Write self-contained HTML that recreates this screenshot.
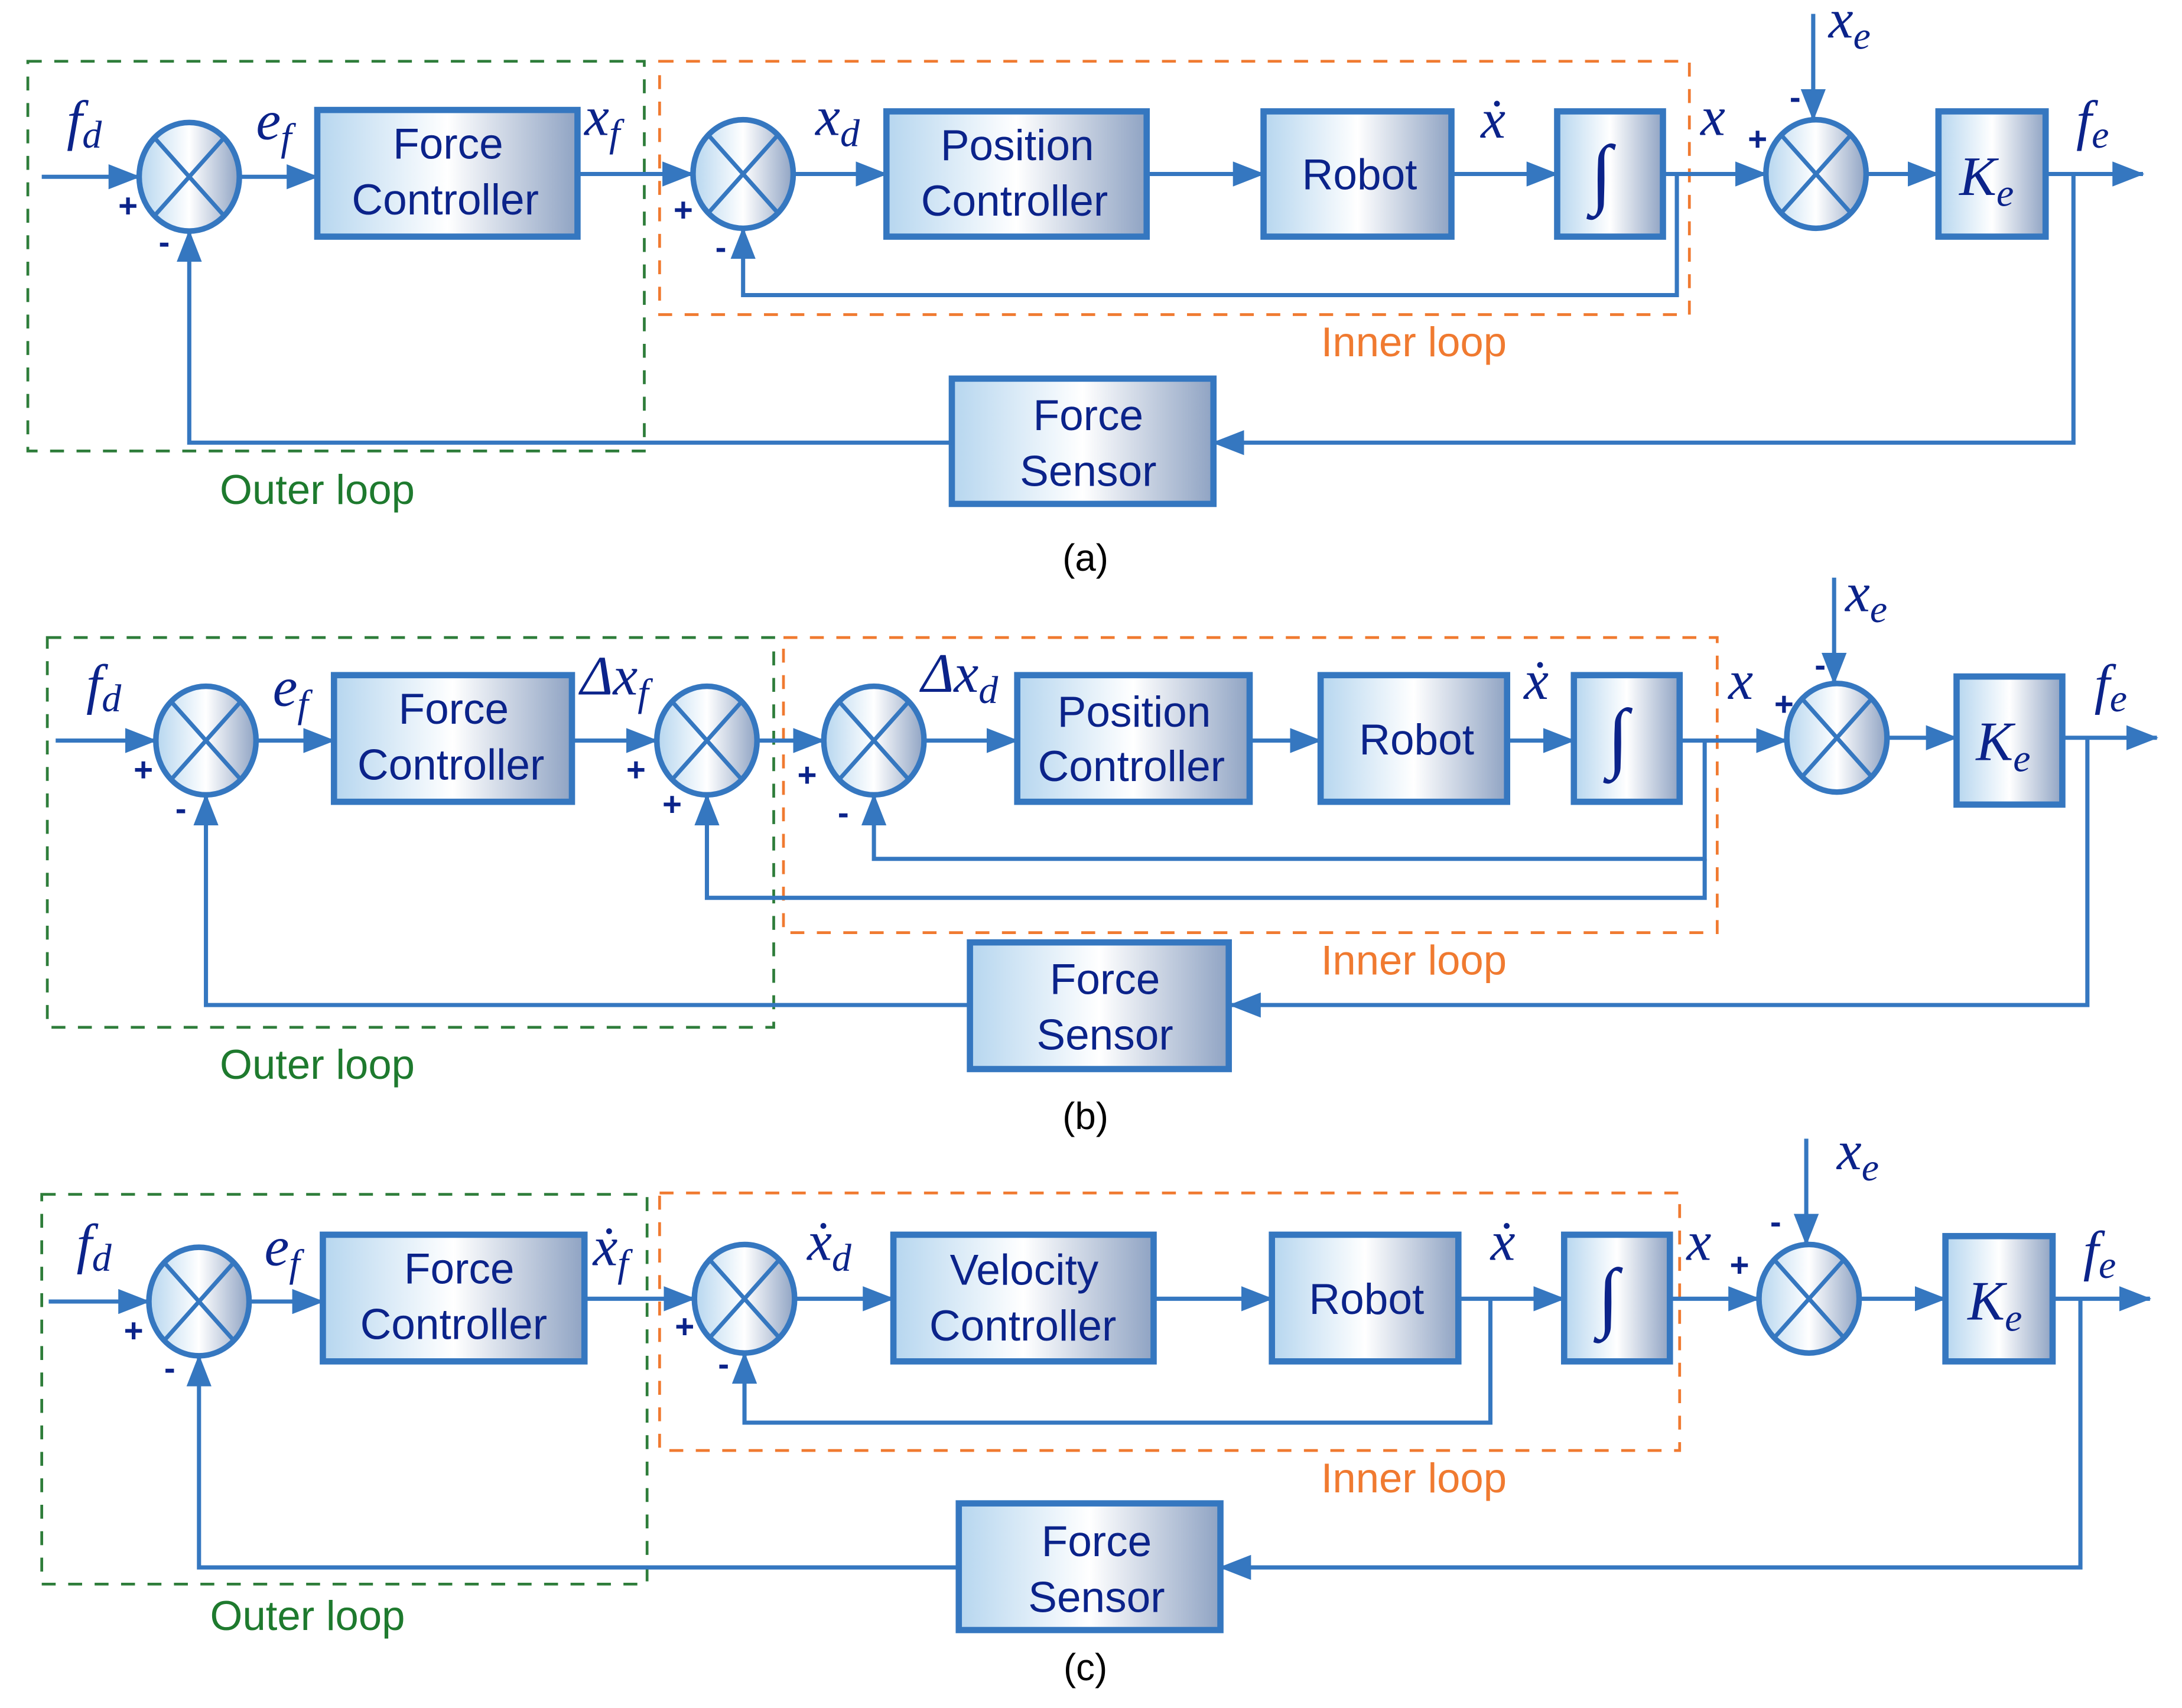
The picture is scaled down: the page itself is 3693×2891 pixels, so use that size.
<!DOCTYPE html>
<html><head><meta charset="utf-8"><style>
html,body{margin:0;padding:0;background:#fff;}
svg{display:block;}
.bt{font-family:"Liberation Sans",sans-serif;font-size:31px;fill:#0b238a;text-anchor:middle;}
.m{font-family:"Liberation Serif",serif;font-style:italic;font-size:40px;fill:#0b238a;}
.s{font-size:28px;}
.sg{font-family:"Liberation Sans",sans-serif;font-size:24px;font-weight:bold;fill:#0b238a;text-anchor:middle;}
.ar{stroke:#3577c0;stroke-width:3;fill:none;marker-end:url(#ah);}
.bx{fill:url(#g);stroke:#3577c0;stroke-width:4.5;}
.og{stroke:#2e7d3a;stroke-width:2;stroke-dasharray:10 9;fill:none;}
.oo{stroke:#f07a30;stroke-width:2;stroke-dasharray:10 9;fill:none;}
.gl{font-family:"Liberation Sans",sans-serif;font-size:30px;fill:#1e7a2e;text-anchor:middle;}
.ol{font-family:"Liberation Sans",sans-serif;font-size:30px;fill:#f07a30;text-anchor:middle;}
.cap{font-family:"Liberation Sans",sans-serif;font-size:27px;fill:#000;text-anchor:middle;}
.int{font-family:"Liberation Serif",serif;font-style:italic;font-size:56px;fill:#0b238a;}
</style></head><body>
<svg width="3693" height="2891" viewBox="0 0 1568 1227" preserveAspectRatio="none" xmlns="http://www.w3.org/2000/svg">
<defs>
<linearGradient id="g" x1="0" x2="1" y1="0" y2="0">
<stop offset="0" stop-color="#b6d6ef"/><stop offset="0.5" stop-color="#ffffff"/><stop offset="1" stop-color="#8fa3c3"/>
</linearGradient>
<marker id="ah" markerUnits="userSpaceOnUse" markerWidth="24" markerHeight="18" refX="22" refY="9" orient="auto">
<path d="M0,0 L23,9 L0,18 Z" fill="#3577c0"/>
</marker>
<g id="sum">
<ellipse cx="0" cy="0" rx="36" ry="39" fill="url(#g)" stroke="#3577c0" stroke-width="4"/>
<line x1="-25" y1="-28" x2="25" y2="28" stroke="#3577c0" stroke-width="3"/>
<line x1="25" y1="-28" x2="-25" y2="28" stroke="#3577c0" stroke-width="3"/>
</g>
</defs>

<!-- ========== (a) ========== -->
<rect class="og" x="20" y="44" width="443" height="280"/>
<rect class="oo" x="474" y="44" width="740" height="182"/>
<line class="ar" x1="30" y1="127" x2="100" y2="127"/>
<use href="#sum" x="136" y="127"/>
<line class="ar" x1="172" y1="127" x2="228" y2="127"/>
<rect class="bx" x="228" y="79" width="187" height="91"/>
<text class="bt" x="322" y="114">Force</text><text class="bt" x="320" y="154">Controller</text>
<line class="ar" x1="415" y1="125" x2="498" y2="125"/>
<use href="#sum" x="534" y="125"/>
<line class="ar" x1="570" y1="125" x2="637" y2="125"/>
<rect class="bx" x="637" y="80" width="187" height="90"/>
<text class="bt" x="731" y="115">Position</text><text class="bt" x="729" y="155">Controller</text>
<line class="ar" x1="824" y1="125" x2="908" y2="125"/>
<rect class="bx" x="908" y="80" width="135" height="90"/>
<text class="bt" x="977" y="136">Robot</text>
<line class="ar" x1="1043" y1="125" x2="1119" y2="125"/>
<rect class="bx" x="1119" y="80" width="76" height="90"/>
<text class="int" x="1143" y="143">∫</text>
<line class="ar" x1="1195" y1="125" x2="1269" y2="125"/>
<polyline class="ar" points="1205,125 1205,212 534,212 534,164"/>
<use href="#sum" x="1305" y="125"/>
<line class="ar" x1="1303" y1="10" x2="1303" y2="86"/>
<line class="ar" x1="1341" y1="125" x2="1393" y2="125"/>
<rect class="bx" x="1393" y="80" width="77" height="90"/>
<text class="m" x="1408" y="140">K<tspan class="s" dy="8">e</tspan></text>
<line class="ar" x1="1470" y1="125" x2="1540" y2="125"/>
<polyline class="ar" points="1490,125 1490,318 872,318"/>
<rect class="bx" x="684" y="272" width="188" height="90"/>
<text class="bt" x="782" y="309">Force</text><text class="bt" x="782" y="349">Sensor</text>
<polyline class="ar" points="684,318 136,318 136,166"/>
<text class="m" x="48" y="100">f<tspan class="s" dy="6">d</tspan></text>
<text class="m" x="184" y="100">e<tspan class="s" dy="8">f</tspan></text>
<text class="m" x="420" y="97">x<tspan class="s" dy="8">f</tspan></text>
<text class="m" x="586" y="97">x<tspan class="s" dy="8">d</tspan></text>
<text class="m" x="1064" y="99">ẋ</text>
<text class="m" x="1222" y="97">x</text>
<text class="m" x="1314" y="27">x<tspan class="s" dy="8">e</tspan></text>
<text class="m" x="1492" y="100">f<tspan class="s" dy="6">e</tspan></text>
<text class="sg" x="92" y="156">+</text><text class="sg" x="118" y="182">-</text>
<text class="sg" x="491" y="159">+</text><text class="sg" x="518" y="186">-</text>
<text class="sg" x="1263" y="108">+</text><text class="sg" x="1290" y="78">-</text>
<text class="gl" x="228" y="362">Outer loop</text>
<text class="ol" x="1016" y="256">Inner loop</text>
<text class="cap" x="780" y="410">(a)</text>

<!-- ========== (b) ========== -->
<rect class="og" x="34" y="458" width="522" height="280"/>
<rect class="oo" x="563" y="458" width="671" height="212"/>
<line class="ar" x1="40" y1="532" x2="112" y2="532"/>
<use href="#sum" x="148" y="532"/>
<line class="ar" x1="184" y1="532" x2="240" y2="532"/>
<rect class="bx" x="240" y="485" width="171" height="91"/>
<text class="bt" x="326" y="520">Force</text><text class="bt" x="324" y="560">Controller</text>
<line class="ar" x1="411" y1="532" x2="472" y2="532"/>
<use href="#sum" x="508" y="532"/>
<line class="ar" x1="544" y1="532" x2="592" y2="532"/>
<use href="#sum" x="628" y="532"/>
<line class="ar" x1="664" y1="532" x2="731" y2="532"/>
<rect class="bx" x="731" y="485" width="167" height="91"/>
<text class="bt" x="815" y="522">Position</text><text class="bt" x="813" y="561">Controller</text>
<line class="ar" x1="898" y1="532" x2="949" y2="532"/>
<rect class="bx" x="949" y="485" width="134" height="91"/>
<text class="bt" x="1018" y="542">Robot</text>
<line class="ar" x1="1083" y1="532" x2="1131" y2="532"/>
<rect class="bx" x="1131" y="485" width="76" height="91"/>
<text class="int" x="1155" y="548">∫</text>
<line class="ar" x1="1207" y1="532" x2="1284" y2="532"/>
<polyline class="ar" points="1225,532 1225,617 628,617 628,571"/>
<polyline class="ar" points="1225,617 1225,645 508,645 508,571"/>
<use href="#sum" x="1320" y="530"/>
<line class="ar" x1="1318" y1="415" x2="1318" y2="491"/>
<line class="ar" x1="1356" y1="530" x2="1406" y2="530"/>
<rect class="bx" x="1406" y="486" width="76" height="92"/>
<text class="m" x="1420" y="546">K<tspan class="s" dy="8">e</tspan></text>
<line class="ar" x1="1482" y1="530" x2="1550" y2="530"/>
<polyline class="ar" points="1500,530 1500,722 884,722"/>
<rect class="bx" x="697" y="677" width="186" height="91"/>
<text class="bt" x="794" y="714">Force</text><text class="bt" x="794" y="754">Sensor</text>
<polyline class="ar" points="697,722 148,722 148,571"/>
<text class="m" x="62" y="505">f<tspan class="s" dy="6">d</tspan></text>
<text class="m" x="196" y="507">e<tspan class="s" dy="8">f</tspan></text>
<text class="m" x="417" y="499">Δx<tspan class="s" dy="8">f</tspan></text>
<text class="m" x="662" y="497">Δx<tspan class="s" dy="8">d</tspan></text>
<text class="m" x="1095" y="502">ẋ</text>
<text class="m" x="1242" y="502">x</text>
<text class="m" x="1326" y="439">x<tspan class="s" dy="8">e</tspan></text>
<text class="m" x="1505" y="505">f<tspan class="s" dy="6">e</tspan></text>
<text class="sg" x="103" y="561">+</text><text class="sg" x="130" y="589">-</text>
<text class="sg" x="457" y="561">+</text><text class="sg" x="483" y="586">+</text>
<text class="sg" x="580" y="565">+</text><text class="sg" x="606" y="592">-</text>
<text class="sg" x="1282" y="514">+</text><text class="sg" x="1308" y="486">-</text>
<text class="gl" x="228" y="775">Outer loop</text>
<text class="ol" x="1016" y="700">Inner loop</text>
<text class="cap" x="780" y="811">(b)</text>

<!-- ========== (c) ========== -->
<rect class="og" x="30" y="858" width="435" height="280"/>
<rect class="oo" x="474" y="857" width="733" height="185"/>
<line class="ar" x1="35" y1="935" x2="107" y2="935"/>
<use href="#sum" x="143" y="935"/>
<line class="ar" x1="179" y1="935" x2="232" y2="935"/>
<rect class="bx" x="232" y="887" width="188" height="91"/>
<text class="bt" x="330" y="922">Force</text><text class="bt" x="326" y="962">Controller</text>
<line class="ar" x1="420" y1="933" x2="499" y2="933"/>
<use href="#sum" x="535" y="933"/>
<line class="ar" x1="571" y1="933" x2="642" y2="933"/>
<rect class="bx" x="642" y="887" width="187" height="91"/>
<text class="bt" x="736" y="923">Velocity</text><text class="bt" x="735" y="963">Controller</text>
<line class="ar" x1="829" y1="933" x2="914" y2="933"/>
<rect class="bx" x="914" y="887" width="134" height="91"/>
<text class="bt" x="982" y="944">Robot</text>
<line class="ar" x1="1048" y1="933" x2="1124" y2="933"/>
<polyline class="ar" points="1071,933 1071,1022 535,1022 535,972"/>
<rect class="bx" x="1124" y="887" width="76" height="91"/>
<text class="int" x="1148" y="950">∫</text>
<line class="ar" x1="1200" y1="933" x2="1264" y2="933"/>
<use href="#sum" x="1300" y="933"/>
<line class="ar" x1="1298" y1="818" x2="1298" y2="894"/>
<line class="ar" x1="1336" y1="933" x2="1398" y2="933"/>
<rect class="bx" x="1398" y="888" width="77" height="90"/>
<text class="m" x="1414" y="948">K<tspan class="s" dy="8">e</tspan></text>
<line class="ar" x1="1475" y1="933" x2="1545" y2="933"/>
<polyline class="ar" points="1495,933 1495,1126 877,1126"/>
<rect class="bx" x="689" y="1080" width="188" height="91"/>
<text class="bt" x="788" y="1118">Force</text><text class="bt" x="788" y="1158">Sensor</text>
<polyline class="ar" points="689,1126 143,1126 143,974"/>
<text class="m" x="55" y="907">f<tspan class="s" dy="6">d</tspan></text>
<text class="m" x="190" y="909">e<tspan class="s" dy="8">f</tspan></text>
<text class="m" x="426" y="909">ẋ<tspan class="s" dy="8">f</tspan></text>
<text class="m" x="580" y="905">ẋ<tspan class="s" dy="8">d</tspan></text>
<text class="m" x="1071" y="905">ẋ</text>
<text class="m" x="1212" y="905">x</text>
<text class="m" x="1320" y="840">x<tspan class="s" dy="8">e</tspan></text>
<text class="m" x="1497" y="912">f<tspan class="s" dy="6">e</tspan></text>
<text class="sg" x="96" y="964">+</text><text class="sg" x="122" y="991">-</text>
<text class="sg" x="492" y="961">+</text><text class="sg" x="520" y="988">-</text>
<text class="sg" x="1250" y="917">+</text><text class="sg" x="1276" y="886">-</text>
<text class="gl" x="221" y="1171">Outer loop</text>
<text class="ol" x="1016" y="1072">Inner loop</text>
<text class="cap" x="780" y="1207">(c)</text>
</svg>
</body></html>
